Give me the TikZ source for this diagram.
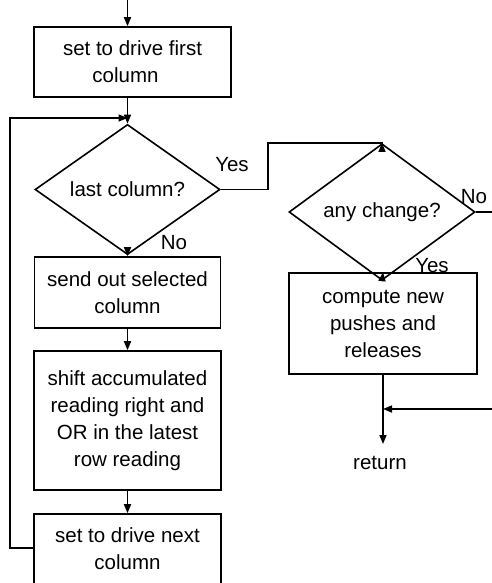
\documentclass[tikz,border=0pt]{standalone}
\usepackage{fontspec}
\setmainfont{Liberation Sans}
\usetikzlibrary{shapes.geometric,arrows.meta}
\begin{document}
\begin{tikzpicture}[x=1pt,y=-1pt,
  line width=1.6pt,
  txt/.style={font=\fontsize{20.5}{27}\selectfont},
  procbox/.style={draw,txt,align=center,inner sep=0pt},
  decision/.style={draw,diamond,txt,inner sep=0pt},
  lbl/.style={txt,inner sep=0pt},
  arr/.style={-{Triangle[length=9pt,width=7pt]}}]
\useasboundingbox (0,0) rectangle (492,583);
\coordinate (start) at (127.5,0);
\node[procbox,minimum width=197,minimum height=70] (b1) at (132.5,62) {set to drive first\\column\hspace*{14pt}};
\coordinate (m) at (127.5,118);
\node[decision,minimum width=185,minimum height=91] (d1) at (127.5,189.5) {last column?};
\node[procbox,minimum width=186,minimum height=71] (b2) at (127.5,292.5) {send out selected\\column};
\node[procbox,minimum width=187,minimum height=139] (b3) at (127.5,420.5) {shift accumulated\\reading right and\\OR in the latest\\row reading};
\node[procbox,minimum width=187,minimum height=70] (b4) at (127.5,549) {set to drive next\\column};
\node[decision,minimum width=186,minimum height=90] (d2) at (382,212) {any change?};
\node[procbox,minimum width=188,minimum height=101] (b5) at (383,323.5) {compute new\\pushes and\\releases};
\coordinate (j) at (383,409);
\coordinate (e) at (383,444);
\node[lbl] (ret) at (380,463) {return};
\node[lbl] (yes1) at (232,165) {Yes};
\node[lbl] (no1) at (174,243) {No};
\node[lbl] (no2) at (474,197) {No};
\node[lbl] (yes2) at (432,266) {Yes};
\coordinate (lp) at (10,548);
\coordinate (yr) at (268,143);
\coordinate (noend) at (492,212);
\coordinate (inend) at (492,409);

\draw[arr] (start) -- (start |- b1.north);
\draw (m |- b1.south) -- (m);
\draw[arr] (m) -- (d1.north);
\draw[arr] (d1.south) -- (b2.north);
\draw[arr] (b2.south) -- (b3.north);
\draw[arr] (b3.south) -- (b4.north);
\draw[arr] (b4.west |- lp) -- (lp) |- (m);
\draw[arr] (d1.east) -| (yr) -| (d2.north);
\draw (d2.east) -- (noend);
\draw[arr] (d2.south) -- (b5.north);
\draw[arr] (b5.south) -- (e);
\draw[arr] (inend) -- (j);
\end{tikzpicture}
\end{document}
